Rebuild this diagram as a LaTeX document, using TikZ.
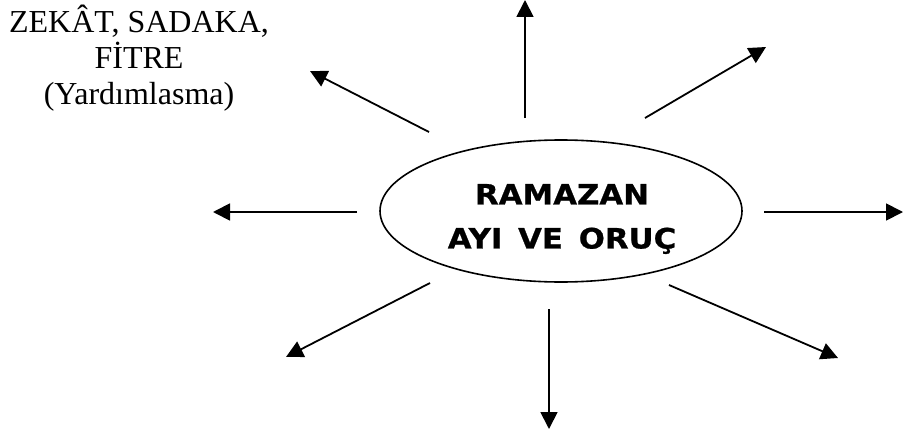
\documentclass[tikz,border=0pt]{standalone}
\usepackage{fontspec}
\setmainfont{Liberation Serif}
\newfontfamily\boxfont[FakeStretch=1.1,BoldFeatures={FakeBold=0.8}]{DejaVu Sans}
\usetikzlibrary{shapes.geometric,arrows.meta}
\tikzset{
  ray/.style={line width=1.8pt,-{Triangle[length=17pt,width=17pt]}},
  hub/.style={ellipse,draw,line width=1.6pt,minimum width=362pt,minimum height=142pt,inner sep=0pt},
  hubtext/.style={align=center,inner sep=0pt,font=\boxfont\bfseries\fontsize{28}{44}\selectfont},
  labeltext/.style={align=center,font=\fontsize{32}{36}\selectfont,inner sep=0pt}
}
\begin{document}
\begin{tikzpicture}[x=1pt,y=-1pt]
\useasboundingbox (0,0) rectangle (904,436);
\node[hub] (c) at (561,211) {};
\node[hubtext] (ct) at (562,219) {RAMAZAN\\AYI\hspace{5pt} VE\hspace{5pt} ORUÇ};
\begin{scope}
\clip (0,0) rectangle (300,111);
\node[labeltext,anchor=north] (lab) at (139,5) {ZEKÂT, SADAKA,\\FİTRE\\(Yardımlasma)};
\end{scope}
% ray start and end points
\coordinate (s1) at (525,118); \coordinate (e1) at (525,0);
\coordinate (s2) at (645,118); \coordinate (e2) at (766,47);
\coordinate (s3) at (764,212); \coordinate (e3) at (903,212);
\coordinate (s4) at (669,285); \coordinate (e4) at (838,358);
\coordinate (s5) at (549,309); \coordinate (e5) at (549,429);
\coordinate (s6) at (430,283); \coordinate (e6) at (286,357);
\coordinate (s7) at (357,212); \coordinate (e7) at (213,212);
\coordinate (s8) at (429,132); \coordinate (e8) at (310,71);
\foreach \i in {1,...,8} \draw[ray] (s\i) -- (e\i);
\end{tikzpicture}
\end{document}
